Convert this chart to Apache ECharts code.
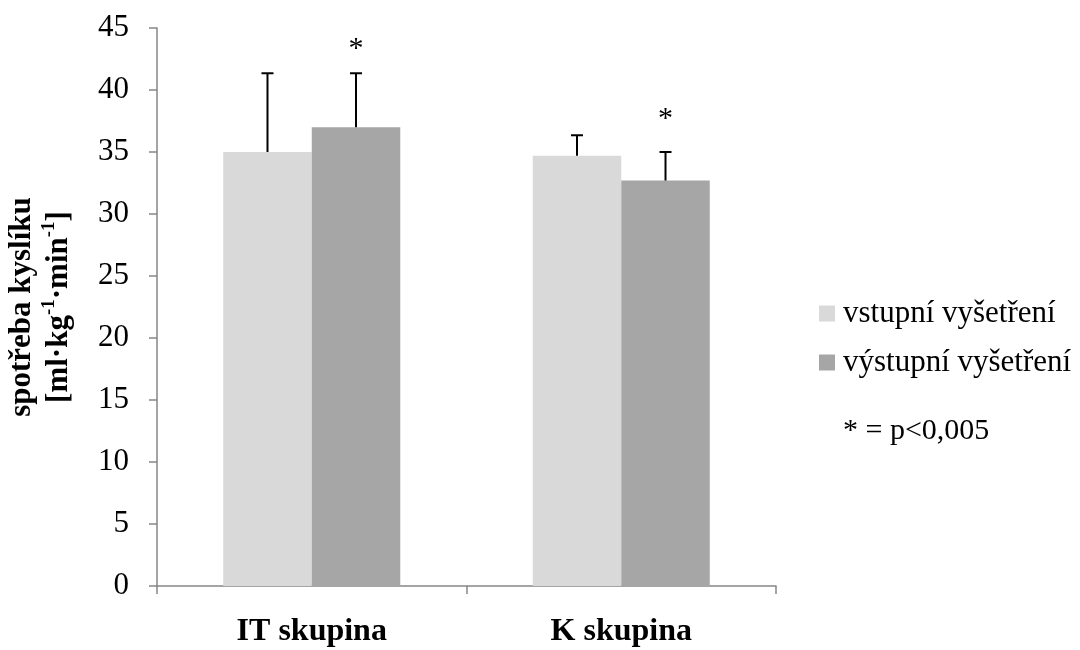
<!DOCTYPE html>
<html>
<head>
<meta charset="utf-8">
<script src="https://cdn.jsdelivr.net/npm/echarts@6/dist/echarts.min.js"></script>
<style>
html,body{margin:0;padding:0;background:#fff;}
#chart{width:1080px;height:650px;}
</style>
</head>
<body>
<div id="chart"></div>
<script>
// ---- data ----
const categories = ['IT skupina', 'K skupina'];
const seriesNames = ['vstupní vyšetření', 'výstupní vyšetření'];
const vstupniValues = [35.0, 34.7];
const vystupniValues = [37.0, 32.7];
const vstupniErrTop = [41.35, 36.35];
const vystupniErrTop = [41.35, 35.0];
const vystupniStars = [43.6, 38.0];   // value at which the "*" mark sits
const yTicks = { min: 0, max: 45, interval: 5 };
const yAxisTitleLine1 = 'spotřeba kyslíku';
const noteText = '* = p<0,005';

// ---- styles ----
const FONT = '"Liberation Serif", "Times New Roman", serif';
const LIGHT = '#D9D9D9';
const DARK = '#A6A6A6';
const AXIS = '#868686';
const BAR_FRAC = 0.286;

function errorRenderer(sign) {
  return function (params, api) {
    const base = api.coord([api.value(0), api.value(1)]);
    const top = api.coord([api.value(0), api.value(2)]);
    const band = api.size([1, 0])[0];
    const cx = base[0] + sign * band * BAR_FRAC / 2;
    return {
      type: 'group',
      children: [
        { type: 'line', shape: { x1: cx, y1: base[1], x2: cx, y2: top[1] },
          style: { stroke: '#000', lineWidth: 2 } },
        { type: 'line', shape: { x1: cx - 6, y1: top[1], x2: cx + 6, y2: top[1] },
          style: { stroke: '#000', lineWidth: 2 } }
      ]
    };
  };
}

function starRenderer(sign) {
  return function (params, api) {
    const p = api.coord([api.value(0), api.value(1)]);
    const band = api.size([1, 0])[0];
    const cx = p[0] + sign * band * BAR_FRAC / 2;
    return {
      type: 'text',
      style: { text: '*', x: cx, y: p[1] + 4, align: 'center', verticalAlign: 'middle',
        font: '30px ' + FONT, fill: '#000' }
    };
  };
}

const chart = echarts.init(document.getElementById('chart'), null, { renderer: 'canvas' });
chart.setOption({
  animation: false,
  backgroundColor: '#fff',
  textStyle: { fontFamily: FONT },
  grid: { left: 157, right: 304, top: 28, bottom: 64, containLabel: false, outerBoundsMode: 'none' },
  legend: {
    orient: 'vertical',
    left: 819, top: 298,
    padding: 0,
    itemWidth: 16, itemHeight: 16, itemGap: 18,
    icon: 'rect',
    data: seriesNames,
    textStyle: { fontFamily: FONT, fontSize: 31, color: '#000', lineHeight: 31, padding: [0, 0, 0, 3] }
  },
  graphic: [{
    type: 'text', left: 843, top: 416,
    style: { text: noteText, font: '30px ' + FONT, fill: '#000' }
  }],
  xAxis: {
    type: 'category',
    data: categories,
    axisLine: { lineStyle: { color: AXIS, width: 1.5 } },
    axisTick: { show: true, length: 8, lineStyle: { color: AXIS, width: 1.5 } },
    axisLabel: { color: '#000', fontFamily: FONT, fontSize: 32, fontWeight: 'bold', margin: 30 },
    splitLine: { show: false }
  },
  yAxis: {
    type: 'value',
    min: yTicks.min, max: yTicks.max, interval: yTicks.interval,
    axisLine: { show: true, lineStyle: { color: AXIS, width: 1.5 } },
    axisTick: { show: true, length: 8, lineStyle: { color: AXIS, width: 1.5 } },
    axisLabel: { color: '#000', fontFamily: FONT, fontSize: 31, margin: 28 },
    splitLine: { show: false },
    name: '{b|' + yAxisTitleLine1 + '}\n{b|[ml·kg}{s|-1}{b|·min}{s|-1}{b|]}',
    nameLocation: 'middle',
    nameGap: 80,
    nameTextStyle: {
      align: 'center',
      rich: {
        b: { fontFamily: FONT, fontSize: 31, fontWeight: 'bold', color: '#000', lineHeight: 37 },
        s: { fontFamily: FONT, fontSize: 19, fontWeight: 'bold', color: '#000', lineHeight: 20, verticalAlign: 'top' }
      }
    }
  },
  series: [
    { name: seriesNames[0], type: 'bar', data: vstupniValues, barWidth: (BAR_FRAC * 100) + '%', barGap: '0%',
      itemStyle: { color: LIGHT } },
    { name: seriesNames[1], type: 'bar', data: vystupniValues, barWidth: (BAR_FRAC * 100) + '%', barGap: '0%',
      itemStyle: { color: DARK } },
    { type: 'custom', renderItem: errorRenderer(-1), z: 5,
      data: categories.map((c, i) => [i, vstupniValues[i], vstupniErrTop[i]]) },
    { type: 'custom', renderItem: errorRenderer(1), z: 5,
      data: categories.map((c, i) => [i, vystupniValues[i], vystupniErrTop[i]]) },
    { type: 'custom', renderItem: starRenderer(1), z: 5,
      data: categories.map((c, i) => [i, vystupniStars[i]]) }
  ]
});
</script>
</body>
</html>
